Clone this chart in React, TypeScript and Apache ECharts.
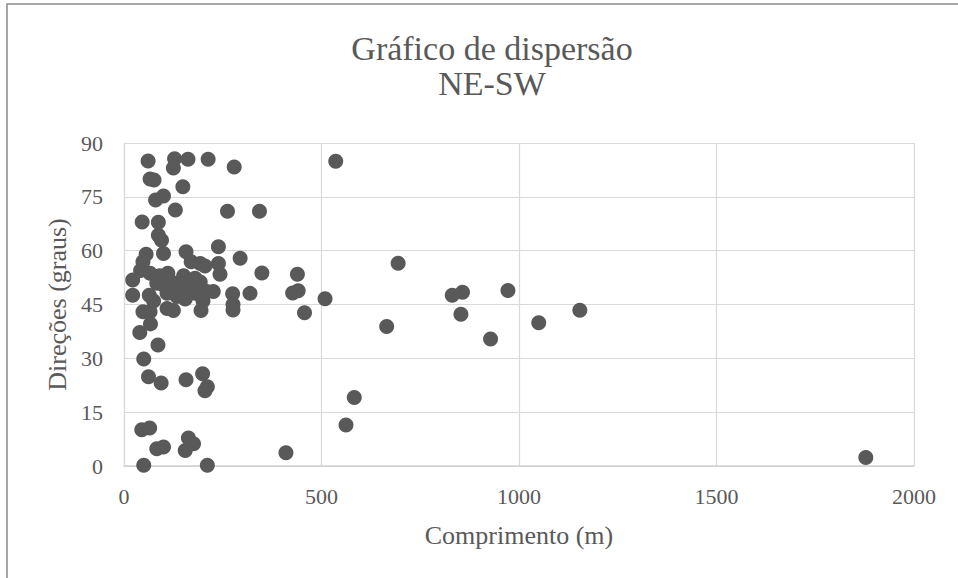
import React, { useEffect, useRef } from "react";
import * as echarts from "echarts";

const titleLines = ["Gráfico de dispersão", "NE-SW"];
const xAxisName = "Comprimento (m)";
const yAxisName = "Direções (graus)";

// Comprimento (m)
const lengths = [
  61, 128, 162, 213, 125, 279, 66, 76, 149, 80, 100, 130, 262, 343, 46, 87,
  87, 95, 239, 157, 100, 56, 294, 48, 170, 193, 205, 239, 243, 349, 439, 66,
  111, 151, 180, 22, 83, 100, 134, 163, 193, 22, 64, 109, 134, 180, 210, 226,
  275, 319, 427, 441, 509, 200, 48, 66, 109, 125, 195, 276, 276, 457, 67, 40,
  86, 50, 62, 94, 157, 199, 211, 205, 45, 65, 83, 100, 163, 176, 155, 50, 211,
  410, 536, 694, 665, 831, 857, 853, 928, 972, 1050, 1154, 583, 562, 1878,
  145, 118, 90, 155, 42, 75,
];
// Direções (graus)
const directions = [
  85.0, 85.6, 85.5, 85.5, 83.0, 83.3, 80.0, 79.7, 77.8, 74.1, 75.2, 71.3, 71.0,
  71.0, 68.0, 67.9, 64.3, 62.9, 61.1, 59.7, 59.2, 59.0, 57.9, 56.9, 56.9, 56.4,
  55.7, 56.4, 53.4, 53.8, 53.4, 53.7, 53.7, 53.0, 52.3, 51.8, 50.9, 50.4, 50.9,
  49.5, 51.3, 47.6, 47.6, 48.1, 47.2, 48.1, 48.6, 48.6, 48.0, 48.1, 48.2, 48.8,
  46.6, 46.0, 43.0, 43.0, 43.9, 43.3, 43.3, 45.0, 43.5, 42.7, 39.6, 37.2, 33.7,
  29.8, 24.9, 23.1, 24.0, 25.7, 22.1, 21.0, 10.1, 10.6, 4.8, 5.3, 7.8, 6.2, 4.3,
  0.2, 0.2, 3.7, 84.9, 56.5, 38.9, 47.6, 48.4, 42.3, 35.4, 48.9, 39.9, 43.4,
  19.1, 11.4, 2.4, 50.5, 51.5, 53.0, 46.5, 54.5, 46.0,
];
const xTicks = { min: 0, max: 2000, interval: 500 };
const yTicks = { min: 0, max: 90, interval: 15 };

const FONT = "'Liberation Serif', 'Times New Roman', serif";
const TEXT = "#595959";

export default function App() {
  const ref = useRef<HTMLDivElement>(null);
  useEffect(() => {
    if (!ref.current) return;
    const chart = echarts.init(ref.current, null, { renderer: "svg" });
    const data = lengths.map((x, i) => [x, directions[i]]);
    chart.setOption({
      animation: false,
      backgroundColor: "#ffffff",
      title: {
        text: titleLines.join("\n"),
        left: 487,
        top: 26,
        textAlign: "center",
        textStyle: {
          fontFamily: FONT,
          fontSize: 34,
          fontWeight: "normal",
          color: TEXT,
          lineHeight: 35,
        },
      },
      graphic: [
        {
          type: "rect",
          shape: { x: 7, y: 4, width: 1200, height: 1200 },
          style: { fill: "none", stroke: "#8a8a8a", lineWidth: 1.5 },
          silent: true,
        },
      ],
      grid: { left: 124, right: 44, top: 143, bottom: 112 },
      xAxis: {
        type: "value",
        min: xTicks.min,
        max: xTicks.max,
        interval: xTicks.interval,
        name: xAxisName,
        nameLocation: "middle",
        nameGap: 56,
        nameTextStyle: { fontFamily: FONT, fontSize: 26, color: TEXT },
        axisLine: { show: true, lineStyle: { color: "#d0d0d0", width: 1.5 } },
        axisTick: { show: false },
        axisLabel: {
          fontFamily: FONT,
          fontSize: 22,
          color: TEXT,
          margin: 19,
          formatter: (v: number) => String(v),
        },
        splitLine: { show: true, lineStyle: { color: "#d9d9d9", width: 1.2 } },
      },
      yAxis: {
        type: "value",
        min: yTicks.min,
        max: yTicks.max,
        interval: yTicks.interval,
        name: yAxisName,
        nameLocation: "middle",
        nameGap: 52,
        nameTextStyle: { fontFamily: FONT, fontSize: 26, color: TEXT },
        axisLine: { show: true, lineStyle: { color: "#d9d9d9", width: 1.2 } },
        axisTick: { show: false },
        axisLabel: {
          fontFamily: FONT,
          fontSize: 22,
          color: TEXT,
          margin: 21,
          formatter: (v: number) => String(v),
        },
        splitLine: { show: true, lineStyle: { color: "#d9d9d9", width: 1.2 } },
      },
      series: [
        {
          type: "scatter",
          data,
          symbol: "circle",
          symbolSize: 15,
          itemStyle: { color: "#595959", opacity: 1 },
        },
      ],
    });
    return () => chart.dispose();
  }, []);
  return (
    <div
      ref={ref}
      style={{ position: "absolute", left: 0, top: 0, width: 958, height: 578 }}
    />
  );
}
